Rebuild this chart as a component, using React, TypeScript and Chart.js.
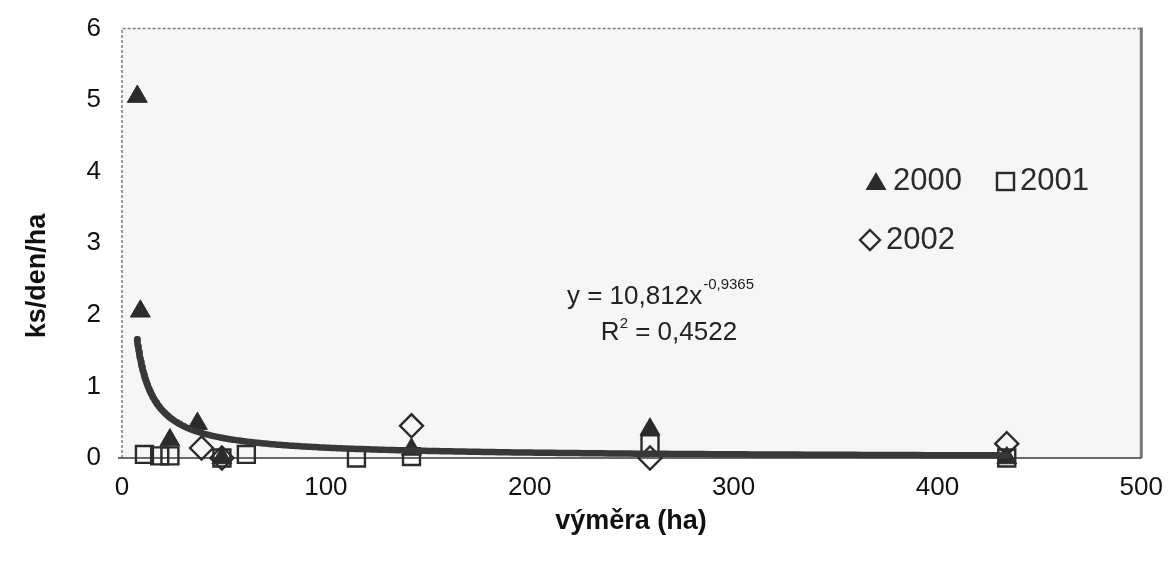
import React, { useEffect, useRef } from "react";
import { Chart, registerables } from "chart.js";

Chart.register(...registerables);

// Axis ticks
const X_TICKS = [0, 100, 200, 300, 400, 500];
const Y_TICKS = [0, 1, 2, 3, 4, 5, 6];

// Series: area of the site (ha) and daily count per hectare
const AREA_2000 = [7.5, 9, 23.5, 37, 49, 142, 259, 434];
const VALUE_2000 = [5.05, 2.05, 0.25, 0.48, 0.0, 0.12, 0.4, 0.0];

const AREA_2001 = [11, 18.5, 23.5, 49, 61, 115, 142, 259, 434];
const VALUE_2001 = [0.05, 0.03, 0.03, 0.0, 0.05, 0.0, 0.02, 0.2, 0.0];

const AREA_2002 = [39, 49, 142, 259, 434];
const VALUE_2002 = [0.14, 0.0, 0.45, 0.0, 0.2];

// Power trend line y = a * x^b
const TREND_A = 10.812;
const TREND_B = -0.9365;
const TREND_R2 = "0,4522";
const TREND_FROM = 7.4;
const TREND_TO = 434;

const SERIES_NAMES = ["2000", "2001", "2002"];

const FONT = "'Liberation Sans', Arial, sans-serif";
const INK = "#2b2b2b";

const toPoints = (xs: number[], ys: number[]) => xs.map((x, i) => ({ x, y: ys[i] }));

const trendPoints = () => {
  const pts: { x: number; y: number }[] = [];
  const n = 300;
  for (let i = 0; i <= n; i++) {
    const x = TREND_FROM * Math.pow(TREND_TO / TREND_FROM, i / n);
    pts.push({ x, y: TREND_A * Math.pow(x, TREND_B) });
  }
  return pts;
};

const triangle = (ctx: CanvasRenderingContext2D, x: number, y: number, w: number, h: number) => {
  ctx.beginPath();
  ctx.moveTo(x, y - h / 2);
  ctx.lineTo(x + w / 2, y + h / 2);
  ctx.lineTo(x - w / 2, y + h / 2);
  ctx.closePath();
  ctx.fill();
};

const framePlugin = {
  id: "frame",
  beforeDraw(chart: any) {
    const { ctx, chartArea: a } = chart;
    ctx.save();
    ctx.fillStyle = "#f6f6f6";
    ctx.fillRect(a.left, a.top, a.right - a.left, a.bottom - a.top);
    ctx.restore();
  },
  beforeDatasetsDraw(chart: any) {
    const { ctx, chartArea: a } = chart;
    ctx.save();
    ctx.strokeStyle = "#7c7c7c";
    ctx.lineWidth = 1.5;
    ctx.setLineDash([3, 2]);
    ctx.beginPath();
    ctx.moveTo(a.left, a.bottom);
    ctx.lineTo(a.left, a.top);
    ctx.lineTo(a.right, a.top);
    ctx.stroke();
    ctx.setLineDash([]);
    ctx.strokeStyle = "#777";
    ctx.lineWidth = 3;
    ctx.beginPath();
    ctx.moveTo(a.right, a.top - 1);
    ctx.lineTo(a.right, a.bottom);
    ctx.stroke();
    ctx.strokeStyle = "#3a3a3a";
    ctx.lineWidth = 1.5;
    ctx.beginPath();
    ctx.moveTo(a.left - 4, a.bottom);
    ctx.lineTo(a.right, a.bottom);
    ctx.stroke();
    ctx.restore();
  },
  afterDraw(chart: any) {
    const { ctx } = chart;
    ctx.save();
    ctx.fillStyle = "#111";
    ctx.textBaseline = "middle";

    // axis titles
    ctx.font = `bold 27px ${FONT}`;
    ctx.textAlign = "center";
    ctx.fillText("výměra (ha)", 631, 522);
    ctx.save();
    ctx.translate(38, 276);
    ctx.rotate(-Math.PI / 2);
    ctx.fillText("ks/den/ha", 0, 0);
    ctx.restore();

    // legend
    ctx.fillStyle = INK;
    ctx.strokeStyle = INK;
    ctx.font = `31px ${FONT}`;
    ctx.textAlign = "left";
    triangle(ctx, 876, 181, 21, 18);
    ctx.fillText(SERIES_NAMES[0], 893, 181);
    ctx.lineWidth = 2.4;
    ctx.strokeRect(997, 173, 17, 17);
    ctx.fillText(SERIES_NAMES[1], 1020, 181);
    ctx.beginPath();
    ctx.moveTo(870, 230);
    ctx.lineTo(880, 240);
    ctx.lineTo(870, 250);
    ctx.lineTo(860, 240);
    ctx.closePath();
    ctx.stroke();
    ctx.fillText(SERIES_NAMES[2], 886, 240);

    // trend equation
    ctx.fillStyle = "#222";
    const big = `26px ${FONT}`;
    const small = `15px ${FONT}`;
    ctx.font = big;
    const main = `y = ${TREND_A.toString().replace(".", ",")}x`;
    const sup = TREND_B.toString().replace(".", ",");
    const mainW = ctx.measureText(main).width;
    ctx.font = small;
    const supW = ctx.measureText(sup).width;
    const startX = 660 - (mainW + supW) / 2;
    ctx.font = big;
    ctx.fillText(main, startX, 297);
    ctx.font = small;
    ctx.fillText(sup, startX + mainW + 1, 285);

    ctx.font = big;
    const r1 = "R";
    const r2 = ` = ${TREND_R2}`;
    const rW = ctx.measureText(r1).width;
    const r2W = ctx.measureText(r2).width;
    ctx.font = small;
    const twoW = ctx.measureText("2").width;
    const rx = 669 - (rW + twoW + r2W) / 2;
    ctx.font = big;
    ctx.fillText(r1, rx, 333);
    ctx.font = small;
    ctx.fillText("2", rx + rW, 324);
    ctx.font = big;
    ctx.fillText(r2, rx + rW + twoW, 333);
    ctx.restore();
  },
};

export default function App() {
  const canvasRef = useRef<HTMLCanvasElement | null>(null);

  useEffect(() => {
    if (!canvasRef.current) return;
    const chart = new Chart(canvasRef.current, {
      type: "scatter",
      data: {
        datasets: [
          {
            label: "trend",
            type: "line",
            data: trendPoints(),
            borderColor: "#383838",
            borderWidth: 6.5,
            borderJoinStyle: "round",
            borderCapStyle: "round",
            pointRadius: 0,
            tension: 0,
            fill: false,
            order: 0,
            clip: false,
          } as any,
          {
            label: SERIES_NAMES[0],
            data: toPoints(AREA_2000, VALUE_2000),
            pointStyle: "triangle",
            pointRadius: 11.5,
            backgroundColor: INK,
            borderColor: INK,
            borderWidth: 1,
            order: 1,
            clip: false,
          },
          {
            label: SERIES_NAMES[2],
            data: toPoints(AREA_2002, VALUE_2002),
            pointStyle: "rectRot",
            pointRadius: 11.5,
            backgroundColor: "rgba(0,0,0,0)",
            borderColor: INK,
            borderWidth: 2.4,
            order: 2,
            clip: false,
          },
          {
            label: SERIES_NAMES[1],
            data: toPoints(AREA_2001, VALUE_2001),
            pointStyle: "rect",
            pointRadius: 12,
            backgroundColor: "rgba(0,0,0,0)",
            borderColor: INK,
            borderWidth: 2.4,
            order: 3,
            clip: false,
          },
        ],
      },
      options: {
        responsive: false,
        animation: false,
        layout: { padding: { top: 28, right: 6, left: 0, bottom: 0 } },
        plugins: {
          legend: { display: false },
          tooltip: { enabled: false },
        },
        scales: {
          x: {
            type: "linear",
            min: X_TICKS[0],
            max: X_TICKS[X_TICKS.length - 1],
            afterBuildTicks: (s: any) => {
              s.ticks = X_TICKS.map((v) => ({ value: v }));
            },
            afterFit: (s: any) => {
              s.height = 107;
            },
            grid: { display: false },
            border: { display: false },
            ticks: {
              color: "#111",
              font: { family: FONT, size: 26 },
              padding: 6,
              maxRotation: 0,
            },
          },
          y: {
            type: "linear",
            min: Y_TICKS[0],
            max: Y_TICKS[Y_TICKS.length - 1],
            afterBuildTicks: (s: any) => {
              s.ticks = Y_TICKS.map((v) => ({ value: v }));
            },
            afterFit: (s: any) => {
              s.width = 122;
            },
            grid: { display: false },
            border: { display: false },
            ticks: {
              color: "#111",
              font: { family: FONT, size: 26 },
              padding: 13,
            },
          },
        },
      },
      plugins: [framePlugin],
    });
    return () => chart.destroy();
  }, []);

  return (
    <div style={{ position: "fixed", left: 0, top: 0, width: 1169, height: 565, background: "#fff" }}>
      <canvas ref={canvasRef} width={1169} height={565} />
    </div>
  );
}
